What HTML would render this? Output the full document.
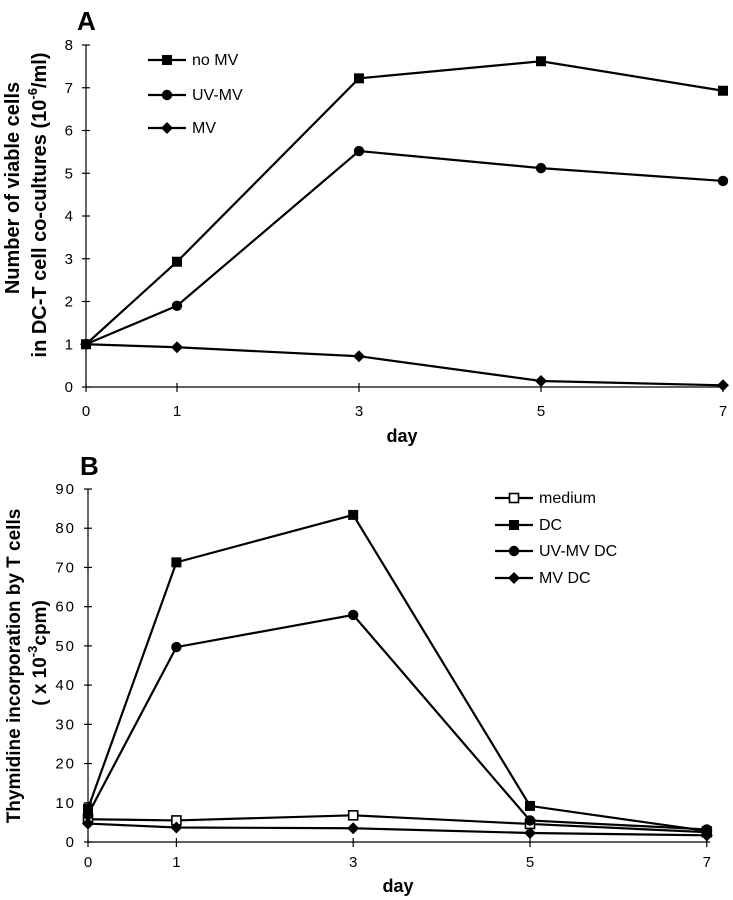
<!DOCTYPE html>
<html><head><meta charset="utf-8">
<style>
html,body{margin:0;padding:0;background:#fff;}
svg{display:block;}
text{font-family:"Liberation Sans",Arial,sans-serif;fill:#000;}
</style></head>
<body>
<svg id="chart" width="733" height="900" viewBox="0 0 733 900" xmlns="http://www.w3.org/2000/svg"></svg>
<script>
const daysA = [0,1,3,5,7];
const noMV = [1,2.93,7.22,7.62,6.93];
const uvMV = [1,1.9,5.52,5.12,4.82];
const mvA = [1,0.93,0.72,0.14,0.04];
const ticksA = [0,1,2,3,4,5,6,7,8];

const daysB = [0,1,3,5,7];
const medium = [5.8,5.5,6.8,4.6,2.5];
const dcB = [8.5,71.3,83.4,9.2,2.8];
const uvmvDC = [7,49.7,57.9,5.5,3.2];
const mvDC = [4.7,3.7,3.5,2.3,1.7];
const ticksB = [0,10,20,30,40,50,60,70,80,90];

const NS="http://www.w3.org/2000/svg";
const svg=document.getElementById('chart');
function mk(tag,attrs,parent,txt){const e=document.createElementNS(NS,tag);for(const k in attrs)e.setAttribute(k,attrs[k]);if(txt!==undefined)e.textContent=txt;(parent||svg).appendChild(e);return e;}

const xA=d=>86+d*91, yA=v=>387-v*42.75;
const xB=d=>88+d*88.4, yB=v=>842-v*3.922;

function marker(g,type,x,y){
  let e;
  if(type==='square'){e=mk('rect',{x:x-5,y:y-5,width:10,height:10,fill:'#000'},g);}
  else if(type==='open'){e=mk('rect',{x:x-4.5,y:y-4.5,width:9,height:9,fill:'#fff',stroke:'#000','stroke-width':1.6},g);}
  else if(type==='circle'){e=mk('circle',{cx:x,cy:y,r:5.2,fill:'#000'},g);}
  else {e=mk('polygon',{points:`${x},${y-6} ${x+6},${y} ${x},${y+6} ${x-6},${y}`,fill:'#000'},g);}
  
  
  return e;
}
function series(name,days,vals,xf,yf,type){
  const g=mk('g',{});
  
  
  const pts=days.map((d,i)=>xf(d)+','+yf(vals[i])).join(' ');
  mk('polyline',{points:pts,fill:'none',stroke:'#000','stroke-width':2.2},g);
  days.forEach((d,i)=>marker(g,type,xf(d),yf(vals[i])));
}
function legend(name,x1,x2,y,type,label){
  const g=mk('g',{});
  
  
  mk('line',{x1:x1,x2:x2,y1:y,y2:y,stroke:'#000','stroke-width':2.2},g);
  marker(g,type,(x1+x2)/2,y);
  mk('text',{x:x2+6,y:y+5,'font-size':16},g,label);
}

// ---- Panel A ----
const ga=mk('g',{});
mk('text',{x:77,y:30,'font-size':26,'font-weight':'bold'},ga,'A');
mk('line',{x1:86,x2:86,y1:45,y2:387,stroke:'#000','stroke-width':1.2},ga);
mk('line',{x1:86,x2:725,y1:387,y2:387,stroke:'#000','stroke-width':1.2},ga);
ticksA.forEach(t=>{mk('line',{x1:82,x2:90,y1:yA(t),y2:yA(t),stroke:'#000','stroke-width':1.2},ga);
  mk('text',{x:73,y:yA(t)+5,'font-size':15,'text-anchor':'end'},ga,String(t));});
daysA.forEach(d=>{mk('line',{x1:xA(d),x2:xA(d),y1:383,y2:392,stroke:'#000','stroke-width':1.2},ga);
  mk('text',{x:xA(d),y:416,'font-size':15,'text-anchor':'middle'},ga,String(d));});
mk('text',{x:402,y:442,'font-size':18,'font-weight':'bold','text-anchor':'middle'},ga,'day');
mk('text',{transform:'translate(19,188) rotate(-90)','font-size':20,'font-weight':'bold','text-anchor':'middle'},ga,'Number of viable cells');
const ta=mk('text',{transform:'translate(46,205) rotate(-90)','font-size':20,'font-weight':'bold','text-anchor':'middle'},ga);
mk('tspan',{},ta,'in DC-T cell co-cultures (10');
mk('tspan',{dy:-9,'font-size':13},ta,'-6');
mk('tspan',{dy:9},ta,'/ml)');
series('series-no-mv',daysA,noMV,xA,yA,'square');
series('series-uv-mv',daysA,uvMV,xA,yA,'circle');
series('series-mv',daysA,mvA,xA,yA,'diamond');
legend('legend-no-mv',148,186,60,'square','no MV');
legend('legend-uv-mv',148,186,95,'circle','UV-MV');
legend('legend-mv',148,186,128,'diamond',' MV');

// ---- Panel B ----
const gb=mk('g',{});
mk('text',{x:80,y:475,'font-size':26,'font-weight':'bold'},gb,'B');
mk('line',{x1:88,x2:88,y1:489,y2:842,stroke:'#000','stroke-width':1.2},gb);
mk('line',{x1:88,x2:710,y1:842,y2:842,stroke:'#000','stroke-width':1.2},gb);
ticksB.forEach(t=>{mk('line',{x1:84,x2:92,y1:yB(t),y2:yB(t),stroke:'#000','stroke-width':1.2},gb);
  mk('text',{x:76,y:yB(t)+5,'font-size':15,'text-anchor':'end','letter-spacing':'2'},gb,String(t));});
daysB.forEach(d=>{mk('line',{x1:xB(d),x2:xB(d),y1:838,y2:847,stroke:'#000','stroke-width':1.2},gb);
  mk('text',{x:xB(d),y:867,'font-size':15,'text-anchor':'middle'},gb,String(d));});
mk('text',{x:398,y:892,'font-size':18,'font-weight':'bold','text-anchor':'middle'},gb,'day');
mk('text',{transform:'translate(20,666) rotate(-90)','font-size':19,'font-weight':'bold','text-anchor':'middle'},gb,'Thymidine incorporation by T cells');
const tb=mk('text',{transform:'translate(46,653) rotate(-90)','font-size':19,'font-weight':'bold','text-anchor':'middle'},gb);
mk('tspan',{},tb,'( x 10');
mk('tspan',{dy:-9,'font-size':13},tb,'-3');
mk('tspan',{dy:9},tb,'cpm)');
series('series-medium',daysB,medium,xB,yB,'open');
series('series-dc',daysB,dcB,xB,yB,'square');
series('series-uv-mv-dc',daysB,uvmvDC,xB,yB,'circle');
series('series-mv-dc',daysB,mvDC,xB,yB,'diamond');
legend('legend-medium',495,533,498,'open','medium');
legend('legend-dc',495,533,525,'square','DC');
legend('legend-uv-mv-dc',495,533,551,'circle','UV-MV DC');
legend('legend-mv-dc',495,533,578,'diamond','MV DC');
</script>
</body></html>
